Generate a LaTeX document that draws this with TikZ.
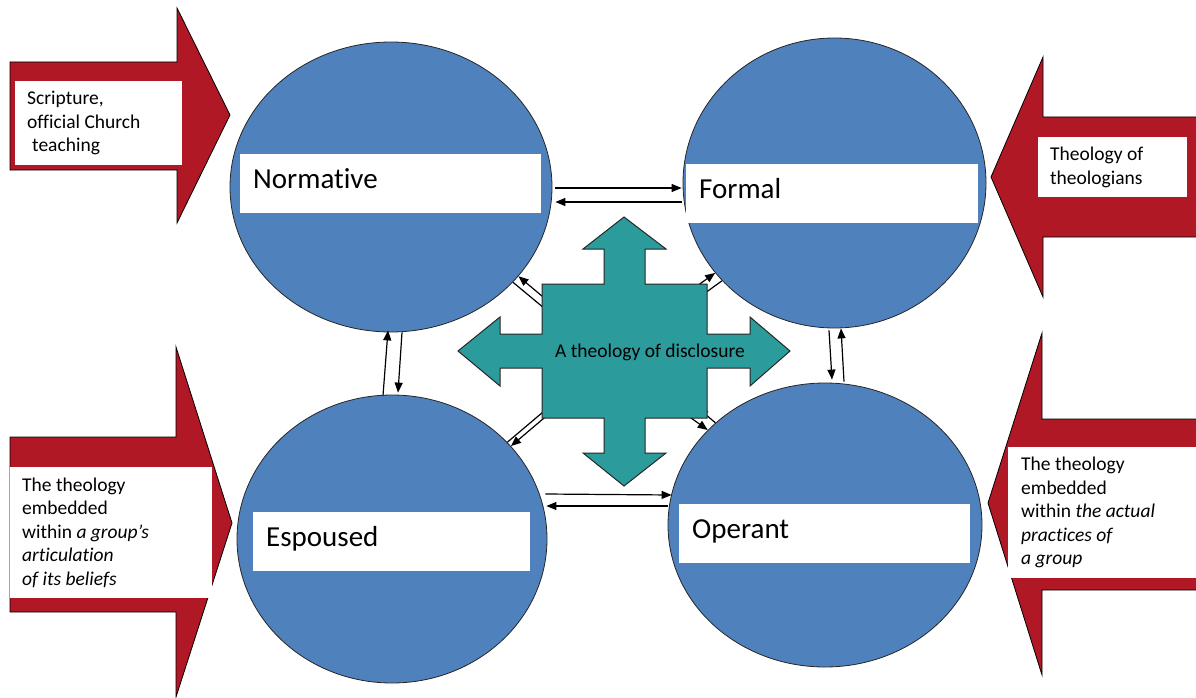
\documentclass[tikz,border=0pt]{standalone}
\usepackage{fontspec}
\setmainfont{Carlito}[Ligatures=NoCommon]
\usetikzlibrary{shapes.geometric,arrows.meta}
\definecolor{circblue}{RGB}{79,129,189}
\definecolor{arrred}{RGB}{176,24,38}
\definecolor{crossteal}{RGB}{44,155,155}
\begin{document}
\begin{tikzpicture}[x=1pt,y=-1pt] % координаты в пикселях, ось y вниз
\tikzstyle{circ} = [ellipse, draw=black!85, line width=0.8pt, fill=circblue, inner sep=0pt] % круг-вид теологии
\tikzstyle{namebox} = [fill=white, inner xsep=13pt, inner ysep=0pt, text height=20pt, text depth=11pt, anchor=north west, align=flush left, font=\fontsize{29}{35}\selectfont] % белая плашка с названием
\tikzstyle{txtbox} = [fill=white, inner xsep=12pt, inner ysep=0pt, anchor=north west, align=flush left, font=\fontsize{19.5}{23.5}\selectfont] % плашка на красной стрелке
\tikzstyle{redarrow} = [fill=arrred, draw=black, line width=0.8pt] % красная стрелка
\tikzstyle{conn} = [-{Triangle[length=10pt,width=8pt]}, line width=1.2pt] % тонкая связь
\useasboundingbox (0,0) rectangle (1196,698);
% красные стрелки
\draw[redarrow] (10,62) -- (177,62) -- (177,8) -- (230,115) -- (177,223) -- (177,170) -- (10,170) -- cycle;
\draw[redarrow] (1200,117) -- (1043,117) -- (1043,57) -- (991,177) -- (1043,297) -- (1043,237) -- (1200,237) -- cycle;
\draw[redarrow] (10,437) -- (176,437) -- (176,347) -- (232,523) -- (176,697) -- (176,612) -- (10,612) -- cycle;
\draw[redarrow] (1200,419) -- (1042,419) -- (1042,333) -- (988,503) -- (1042,675) -- (1042,590) -- (1200,590) -- cycle;
\node[txtbox, text width=143pt, minimum height=84pt] (scrlab) at (15,81) {Scripture,\\official Church\\\hspace*{5pt}teaching};
\node[txtbox, text width=125pt, minimum height=60pt] (thelab) at (1038,137) {Theology of\\theologians};
\node[txtbox, text width=178pt, minimum height=131pt] (belab) at (10,467) {The theology\\embedded\\within \textit{a group’s}\\\textit{articulation}\\\textit{of its beliefs}};
\node[txtbox, inner xsep=13pt, text width=168pt, minimum height=131pt] (prlab) at (1008,447) {The theology\\embedded\\within \textit{the actual}\\\textit{practices of}\\\textit{a group}};
% четыре круга
\node[circ, minimum width=322pt, minimum height=290pt] (norm) at (391,187) {};
\node[circ, minimum width=303pt, minimum height=290pt] (form) at (834.5,183) {};
\node[circ, minimum width=310pt, minimum height=288pt] (esp) at (392,539) {};
\node[circ, minimum width=314pt, minimum height=284pt] (oper) at (825,525) {};
\node[namebox, text width=275pt, minimum height=59pt] (normlab) at (240,154) {Normative};
\node[namebox, text width=266pt, minimum height=59pt] (formlab) at (686,164) {Formal};
\node[namebox, text width=251pt, minimum height=59pt] (esplab) at (253,512) {Espoused};
\node[namebox, text width=265pt, minimum height=59pt] (operlab) at (679,504) {Operant};
% связи между кругами
\draw[conn] ([shift={(3,1)}]norm.east) -- ([shift={(-1,5)}]form.west);
\draw[conn] ([shift={(-1,19)}]form.west) -- ([shift={(3,15)}]norm.east);
\draw[conn] ([shift={(-9,1)}]esp.north) -- ([shift={(-3,-2)}]norm.south);
\draw[conn] ([shift={(11,0)}]norm.south) -- ([shift={(6,-2)}]esp.north);
\draw[conn] ([shift={(-5.5,2)}]form.south) -- ([shift={(7,-3)}]oper.north);
\draw[conn] ([shift={(19,-1)}]oper.north) -- ([shift={(6.5,0)}]form.south);
\draw[conn] ([shift={(-2,-45)}]esp.east) -- ([shift={(4,-30)}]oper.west);
\draw[conn] ([shift={(0,-19)}]oper.west) -- ([shift={(-1,-33)}]esp.east);
% связи с крестом (концы под крестом)
\coordinate (cnw1) at (549,302);
\coordinate (cnw2) at (556,318);
\coordinate (cne1) at (690,291);
\coordinate (cne2) at (694,301);
\coordinate (csw1) at (550,413);
\coordinate (csw2) at (556,401);
\coordinate (cse1) at (680,410);
\coordinate (cse2) at (698,408);
\draw[conn] (cnw1) -- (norm.-35.6);
\draw[conn] (norm.-38.3) -- (cnw2);
\draw[conn] (cne1) -- (form.217.1);
\draw[conn] (form.221.1) -- (cne2);
\draw[conn] (csw1) -- (esp.38.4);
\draw[conn] (esp.40.7) -- (csw2);
\draw[conn] (cse1) -- (oper.141.5);
\draw[conn] (oper.137.2) -- (cse2);
% крест в центре
\draw[fill=crossteal, draw=black!85, line width=1pt] (624,217) -- (666,249) -- (645,249) -- (645,284) -- (707,284) -- (707,334) -- (750,334) -- (750,317) -- (790,351) -- (750,386) -- (750,368) -- (707,368) -- (707,418) -- (645,418) -- (645,453) -- (666,453) -- (624,486) -- (583,453) -- (604,453) -- (604,418) -- (542,418) -- (542,368) -- (500,368) -- (500,386) -- (458,351) -- (500,317) -- (500,334) -- (542,334) -- (542,284) -- (604,284) -- (604,249) -- (583,249) -- cycle;
\node[font=\fontsize{19.5}{23.5}\selectfont, inner sep=0pt] (disc) at (650,352) {A theology of disclosure};
\end{tikzpicture}
\end{document}
